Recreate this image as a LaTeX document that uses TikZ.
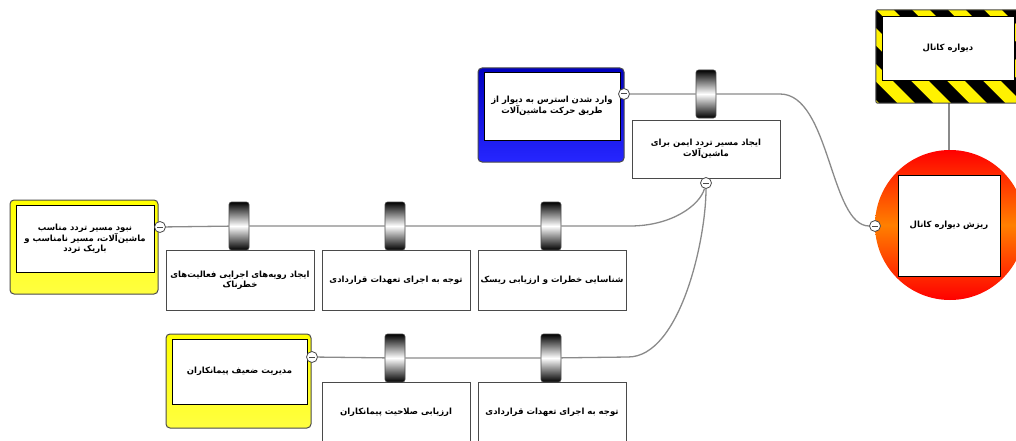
\documentclass[tikz,border=0pt]{standalone}
\usepackage{fontspec}
\usepackage{xcolor}
\usepackage{tikz}
\usetikzlibrary{backgrounds}
\TeXXeTstate=1
\newfontfamily\arabicfont[Script=Arabic]{DejaVu Sans}
\newcommand{\fa}[1]{{\arabicfont\bfseries\beginR #1\endR}}
\definecolor{wiregray}{HTML}{8A8A8A}
\definecolor{framegray}{HTML}{4A4A4A}

\tikzset{
  wire/.style={draw=wiregray, line width=1.3pt},
  txt/.style={align=center, font=\fontsize{8.5}{10}\selectfont, inner sep=1pt},
  ctrlbox/.style={txt, rectangle, draw=framegray, fill=white, line width=0.8pt,
    minimum width=148pt, minimum height=60pt},
  barrier/.style={rectangle, rounded corners=2.5pt, draw=framegray, line width=0.6pt,
    minimum width=20pt, minimum height=48pt, inner sep=0pt,
    top color=black, bottom color=black, middle color=white},
  threatframe/.style={rectangle, rounded corners=4pt, draw=framegray, line width=1pt,
    minimum width=#1, minimum height=94pt, inner sep=0pt},
  threatbox/.style={txt, rectangle, draw=black, fill=white, line width=0.8pt},
  minus/.style={circle, draw=framegray, fill=white, line width=0.8pt, minimum size=11pt,
    inner sep=0pt, path picture={\draw[line width=1pt]
      ([xshift=-3pt]path picture bounding box.center) --
      ([xshift=3pt]path picture bounding box.center);}}
}

\begin{document}
\begin{tikzpicture}[x=1pt, y=-1pt]
  \useasboundingbox (0,0) rectangle (1016,441);

  \node[rectangle, rounded corners=2pt, fill=yellow, minimum width=146pt, minimum height=93pt]
    (hazframe) at (949,56.5) {};
  \begin{scope}
    \clip[rounded corners=2pt] (hazframe.north west) rectangle (hazframe.south east);
    \foreach \s in {0,...,9}
      \fill (740+\s*36,0) -- ++(18,0) -- ++(120,120) -- ++(-18,0) -- cycle;
  \end{scope}
  \draw[framegray, rounded corners=2pt, line width=1pt] (hazframe.north west) rectangle (hazframe.south east);
  \node[threatbox, minimum width=132pt, minimum height=64pt] (hazard) at (948,48) {\fa{دیواره کانال}};

  \node[circle, minimum size=150pt, inner sep=0pt, top color=red, bottom color=red, middle color=orange]
    (topev) at (950,225) {};
  \node[threatbox, minimum width=102pt, minimum height=101pt] (topbox) at (949,225.5) {\fa{ریزش دیواره کانال}};
  \node[minus] (mTop) at (875,226) {};

  \node[threatframe=146pt, top color=blue!75!black, bottom color=blue!85!white] (thrAframe) at (551,115) {};
  \node[threatbox, minimum width=136pt, minimum height=68pt] (thrA) at (552,106)
    {\fa{وارد شدن استرس به دیوار از}\\\fa{طریق حرکت ماشین^^^^200cآلات}};
  \node[minus] (mA) at (624,94) {};
  \node[ctrlbox, minimum height=58pt] (cA1) at (706,149)
    {\fa{ایجاد مسیر تردد ایمن برای}\\\fa{ماشین^^^^200cآلات}};
  \node[barrier] (bA1) at (706,94) {};
  \node[minus] (mX) at (706,183) {};
  \coordinate (k1) at (780,94);

  \node[threatframe=148pt, top color=yellow, bottom color=yellow!75!white] (thrBframe) at (84,247) {};
  \node[threatbox, minimum width=138pt, minimum height=67pt] (thrB) at (85,238.5)
    {\fa{نبود مسیر تردد مناسب}\\\fa{ماشین^^^^200cآلات، مسیر نامناسب و}\\\fa{باریک تردد}};
  \node[minus] (mB) at (160,227) {};
  \node[ctrlbox] (cB1) at (240,280)
    {\fa{ایجاد رویه^^^^200cهای اجرایی فعالیت^^^^200cهای}\\\fa{خطرناک}};
  \node[ctrlbox] (cB2) at (396,280) {\fa{توجه به اجرای تعهدات قراردادی}};
  \node[ctrlbox] (cB3) at (552,280) {\fa{شناسایی خطرات و ارزیابی ریسک}};
  \node[barrier] (bB1) at (239,226) {};
  \node[barrier] (bB2) at (395,226) {};
  \node[barrier] (bB3) at (551,226) {};
  \coordinate (k2) at (630,226);

  \node[threatframe=145pt, top color=yellow, bottom color=yellow!75!white] (thrCframe) at (238.5,381) {};
  \node[threatbox, minimum width=135pt, minimum height=65pt] (thrC) at (239.5,371.5)
    {\fa{مدیریت ضعیف پیمانکاران}};
  \node[minus] (mC) at (312,357) {};
  \node[ctrlbox] (cC1) at (396,412) {\fa{ارزیابی صلاحیت پیمانکاران}};
  \node[ctrlbox] (cC2) at (552,412) {\fa{توجه به اجرای تعهدات قراردادی}};
  \node[barrier] (bC1) at (395,358) {};
  \node[barrier] (bC2) at (551,358) {};
  \coordinate (k3) at (628,357);

  \begin{scope}[on background layer]
    \draw[wire] (hazframe.south) -- (hazframe.south |- topev.north);
    \draw[wire] (mA) -- (bA1) -- (k1) .. controls (830,94) and (830,226) .. (mTop);
    \draw[wire] (mB) -- (bB1) -- (bB2) -- (bB3) -- (k2) .. controls (672,226) and (700,205) .. (mX);
    \draw[wire] (mC) -- (bC1) -- (bC2) -- (k3) .. controls (680,357) and (706,240) .. (mX);
  \end{scope}
\end{tikzpicture}
\end{document}
